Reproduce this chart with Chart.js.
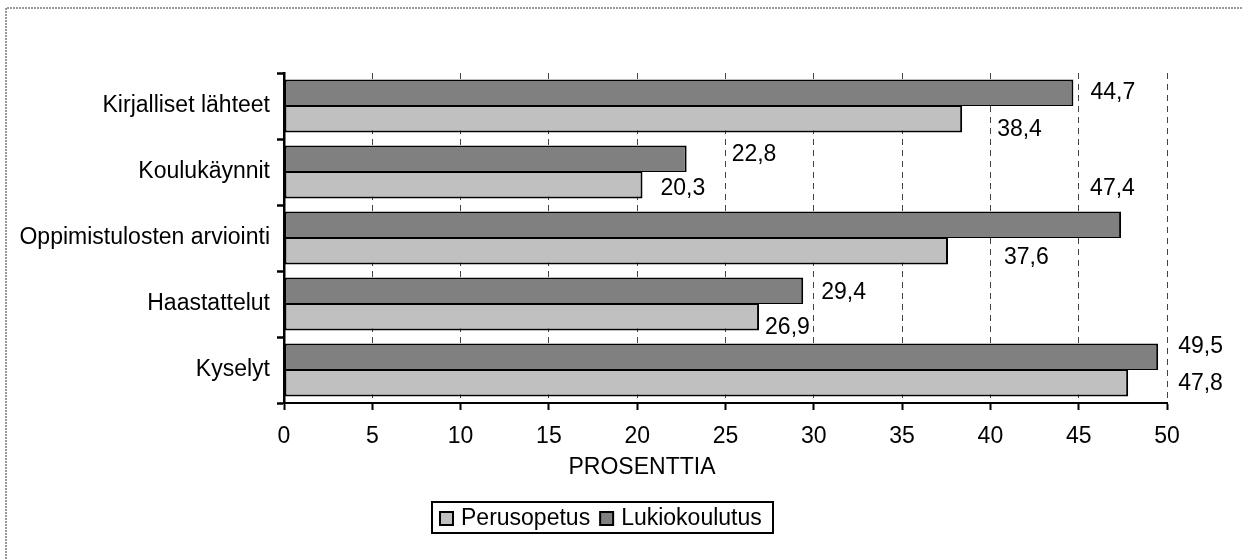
<!DOCTYPE html>
<html>
<head>
<meta charset="utf-8">
<script src="https://cdn.jsdelivr.net/npm/chart.js@4/dist/chart.umd.min.js"></script>
<style>
  html, body { margin: 0; padding: 0; background: #fff; }
  #wrap { width: 1243px; height: 559px; }
  canvas { display: block; }
</style>
</head>
<body>
<div id="wrap"><canvas id="c" width="1243" height="559"></canvas></div>
<script>
// Categories and series values
const categories = ['Kirjalliset lähteet', 'Koulukäynnit', 'Oppimistulosten arviointi', 'Haastattelut', 'Kyselyt'];
const perusopetus = [38.4, 20.3, 37.6, 26.9, 47.8];
const lukiokoulutus = [44.7, 22.8, 47.4, 29.4, 49.5];
const seriesNames = ['Perusopetus', 'Lukiokoulutus'];
const xMin = 0;
const xMax = 50;
const xStep = 5;
const axisTitle = 'PROSENTTIA';

// Hand-placed nudges (px) for the value labels, relative to each bar's end and centre
const perusLabelShift = [[35, 10], [18, 3], [56, 6], [6, 10], [50, 0]];
const lukioLabelShift = [[17, 0], [45, -4], [-31, -36], [18, 2], [20, -10]];

const FONT = 'Arial, "Liberation Sans", sans-serif';
const FONT_SIZE = 23;
const LIGHT = '#c0c0c0';
const DARK = '#808080';

const fmt = v => v.toFixed(1).replace('.', ',');

// Value labels next to the bars
const valueLabels = {
  id: 'valueLabels',
  afterDatasetsDraw(chart) {
    const ctx = chart.ctx;
    ctx.save();
    ctx.font = FONT_SIZE + 'px ' + FONT;
    ctx.fillStyle = '#000';
    ctx.textAlign = 'left';
    ctx.textBaseline = 'middle';
    chart.data.datasets.forEach((ds, di) => {
      const meta = chart.getDatasetMeta(di);
      meta.data.forEach((bar, i) => {
        const shift = ds.labelShift[i];
        ctx.fillText(fmt(ds.data[i]), bar.x + shift[0], bar.y + shift[1]);
      });
    });
    ctx.restore();
  }
};

// Page frame, axis title and boxed legend
const decor = {
  id: 'decor',
  beforeDraw(chart) {
    const ctx = chart.ctx;
    ctx.save();
    ctx.fillStyle = '#fff';
    ctx.fillRect(0, 0, chart.width, chart.height);
    ctx.strokeStyle = '#9a9a9a';
    ctx.lineWidth = 2;
    ctx.setLineDash([2, 1]);
    ctx.beginPath();
    ctx.moveTo(6, chart.height);
    ctx.lineTo(6, 8);
    ctx.lineTo(chart.width, 8);
    ctx.stroke();
    ctx.restore();
  },
  afterDraw(chart) {
    const ctx = chart.ctx;
    ctx.save();
    ctx.font = FONT_SIZE + 'px ' + FONT;
    ctx.fillStyle = '#000';
    ctx.textBaseline = 'middle';
    ctx.textAlign = 'center';
    ctx.fillText(axisTitle, 642, 468);

    // legend box
    const bx = 432, by = 502, bw = 341, bh = 31;
    ctx.strokeStyle = '#000';
    ctx.lineWidth = 2;
    ctx.strokeRect(bx, by, bw, bh);
    ctx.textAlign = 'left';
    // legend entries listed in the order Perusopetus, Lukiokoulutus
    const entries = chart.data.datasets.slice().reverse();
    let x = bx + 8;
    const sq = 13;
    const cy = by + bh / 2 + 1;
    entries.forEach(ds => {
      ctx.fillStyle = ds.backgroundColor;
      ctx.fillRect(x, cy - sq / 2, sq, sq);
      ctx.lineWidth = 2;
      ctx.strokeStyle = '#000';
      ctx.strokeRect(x, cy - sq / 2, sq, sq);
      x += sq + 8;
      ctx.fillStyle = '#000';
      ctx.fillText(ds.label, x, cy);
      x += ctx.measureText(ds.label).width + 10;
    });
    ctx.restore();
  }
};

new Chart(document.getElementById('c'), {
  type: 'bar',
  data: {
    labels: categories,
    datasets: [
      {
        label: seriesNames[1],
        data: lukiokoulutus,
        backgroundColor: DARK,
        borderColor: '#000',
        borderWidth: { top: 2, right: 2, bottom: 1, left: 2 },
        borderSkipped: false,
        labelShift: lukioLabelShift
      },
      {
        label: seriesNames[0],
        data: perusopetus,
        backgroundColor: LIGHT,
        borderColor: '#000',
        borderWidth: { top: 1, right: 2, bottom: 2, left: 2 },
        borderSkipped: false,
        labelShift: perusLabelShift
      }
    ]
  },
  options: {
    indexAxis: 'y',
    responsive: false,
    devicePixelRatio: 1,
    animation: false,
    layout: { padding: { top: 73, right: 76, bottom: 116, left: 0 } },
    datasets: { bar: { categoryPercentage: 0.8, barPercentage: 1.0 } },
    plugins: { legend: { display: false }, tooltip: { enabled: false } },
    scales: {
      x: {
        type: 'linear',
        min: xMin,
        max: xMax,
        ticks: { stepSize: xStep, color: '#000', padding: 13, font: { family: FONT, size: FONT_SIZE } },
        grid: { color: '#444', lineWidth: 1, drawTicks: true, tickLength: 7, tickColor: '#000', tickWidth: 2 },
        border: { display: true, color: '#000', width: 2, dash: [6, 5] },
        afterFit(scale) { scale.height = 40; }
      },
      y: {
        type: 'category',
        offset: true,
        ticks: { color: '#000', padding: 7, font: { family: FONT, size: FONT_SIZE } },
        grid: { offset: true, drawOnChartArea: false, drawTicks: true, tickLength: 7, tickColor: '#000', tickWidth: 2.5 },
        border: { display: true, color: '#000', width: 2.5 },
        afterFit(scale) { scale.width = 284; }
      }
    }
  },
  plugins: [decor, valueLabels]
});
</script>
</body>
</html>
